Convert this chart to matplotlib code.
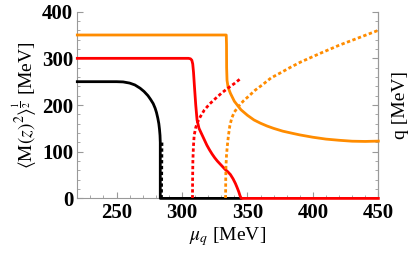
import numpy as np
import matplotlib.pyplot as plt
from matplotlib.ticker import MultipleLocator

plt.rcParams['font.family'] = 'Liberation Serif'
plt.rcParams['mathtext.fontset'] = 'stix'

# chiral condensate <M(z)^2>^(1/2), solid lines
mu_black = [220, 250, 255, 260, 264, 268, 271, 274, 276, 278, 279.5, 280.5, 281.5,
            282.3, 282.8, 283.2, 283.4, 283.4, 300, 345]
M_black = [250, 250, 249.5, 247, 243, 236, 229, 220, 212, 203, 193, 184, 172,
           160, 148, 135, 120, 0, 0, 0]

mu_red = [220, 305, 306.5, 307.5, 308.2, 308.8, 309.5, 310.5, 311.5, 313, 315, 317, 319,
          321, 323, 325, 327, 329, 331, 333, 335, 337, 339, 340.8, 342, 343.4, 344.3,
          345, 345.5, 450]
M_red = [300, 300, 299, 296, 288, 270, 240, 200, 168, 150, 138, 126, 114,
         104, 95, 87, 80, 74, 68, 62, 57, 51, 42, 32, 24, 14, 6,
         1.5, 0, 0]

mu_orange = [220, 333.8, 334.0, 334.1, 334.4, 335.2, 337, 340, 345, 350, 355, 360, 365,
             370, 377, 385, 390, 400, 410, 420, 430, 440, 450]
M_orange = [350, 350, 330, 280, 253, 238, 225, 208, 190, 178, 168, 161, 155,
            150, 144, 139, 136, 131, 127, 124.5, 122.5, 122, 122.7]

# wave number q, dotted lines
mu_black_q = [284.3, 284.5, 284.7]
q_black = [0, 60, 125]

mu_red_q = [308.0, 308.1, 308.3, 308.7, 309.3, 310.5, 312, 314, 317, 321, 325.6, 330, 335, 340, 344]
q_red = [0, 40, 80, 110, 135, 152, 164, 175, 189, 202, 214, 225, 236, 246, 255]

mu_orange_q = [333.3, 333.4, 333.6, 334.0, 334.6, 335.5, 336.5, 338, 340, 343.4, 347, 351,
               356, 361.3, 368, 376.6, 383, 390.6, 405, 420, 435, 450]
q_orange = [0, 40, 70, 92, 112, 135, 155, 172, 185, 198, 209, 219,
            232, 243, 258, 271, 281, 292, 310, 328, 344, 360]

orange = '#ff8c00'
red = '#ff0000'

fig = plt.figure(figsize=(4.09, 2.59), dpi=100)
ax = fig.add_axes([0.189, 0.234, 0.736, 0.721])

ax.plot(mu_black, M_black, color='black', lw=2, clip_on=False, zorder=3)
ax.plot(mu_red, M_red, color=red, lw=2, clip_on=False, zorder=3)
ax.plot(mu_orange, M_orange, color=orange, lw=2, clip_on=False, zorder=3)
dots = (0, (1.2, 0.9))
ax.plot(mu_black_q, q_black, color='black', lw=2, linestyle=dots, zorder=3)
ax.plot(mu_red_q, q_red, color=red, lw=2, linestyle=dots, zorder=3)
ax.plot(mu_orange_q, q_orange, color=orange, lw=2, linestyle=dots, zorder=3)

ax.set_xlim(220, 450)
ax.set_ylim(0, 400)
ax.set_xticks([250, 300, 350, 400, 450])
ax.set_yticks([0, 100, 200, 300, 400])
ax.xaxis.set_minor_locator(MultipleLocator(10))
ax.yaxis.set_minor_locator(MultipleLocator(20))

for lab in ax.get_xticklabels() + ax.get_yticklabels():
    lab.set_fontweight('bold')
    lab.set_fontsize(15)

ax.tick_params(which='both', direction='in', color='#999999', top=False, right=False, pad=3)
ax.tick_params(which='major', length=4)
ax.tick_params(which='minor', length=2)
ax.spines['top'].set_visible(False)
for s in ['left', 'right', 'bottom']:
    ax.spines[s].set_color('#999999')

ax.set_xlabel(r'$\mu_q$ [MeV]', fontsize=14, labelpad=2)
ax.set_ylabel(r'$\langle \mathrm{M}(z)^2\rangle^{\frac{1}{2}}$ [MeV]', fontsize=14, labelpad=2)

# right axis for q, same scale; keep it under the curves
ax2 = ax.twinx()
ax2.set_zorder(ax.get_zorder() - 1)
ax.patch.set_visible(False)
ax2.set_ylim(0, 400)
ax2.set_yticks([0, 100, 200, 300, 400])
ax2.yaxis.set_minor_locator(MultipleLocator(20))
ax2.set_yticklabels([])
ax2.tick_params(which='both', direction='in', color='#999999')
ax2.tick_params(which='major', length=4)
ax2.tick_params(which='minor', length=2)
for s in ['top', 'left', 'bottom']:
    ax2.spines[s].set_visible(False)
ax2.spines['right'].set_color('#999999')
ax2.set_ylabel('q [MeV]', fontsize=14, labelpad=6)

fig.savefig('out.png', dpi=100)
